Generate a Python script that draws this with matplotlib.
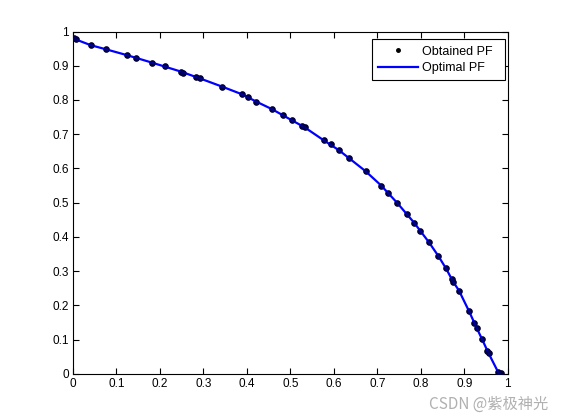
import matplotlib
matplotlib.use("Agg")
import matplotlib.pyplot as plt
import numpy as np

# Obtained PF points
obt_x = [0.002, 0.007, 0.041, 0.076, 0.124, 0.145, 0.182, 0.212, 0.248, 0.253,
         0.282, 0.292, 0.343, 0.388, 0.403, 0.422, 0.458, 0.483, 0.503, 0.527,
         0.533, 0.577, 0.594, 0.612, 0.635, 0.673, 0.709, 0.725, 0.746, 0.768,
         0.785, 0.798, 0.819, 0.840, 0.858, 0.871, 0.875, 0.888, 0.911, 0.923,
         0.929, 0.941, 0.953, 0.956, 0.977, 0.984]
obt_y = [0.982, 0.978, 0.960, 0.948, 0.931, 0.924, 0.909, 0.898, 0.883, 0.880,
         0.868, 0.863, 0.839, 0.817, 0.808, 0.795, 0.773, 0.756, 0.741, 0.724,
         0.720, 0.682, 0.670, 0.653, 0.630, 0.592, 0.550, 0.527, 0.499, 0.466,
         0.441, 0.418, 0.384, 0.345, 0.308, 0.278, 0.268, 0.243, 0.183, 0.149,
         0.133, 0.101, 0.067, 0.060, 0.005, 0.001]

# Optimal PF line
opt_x = [0.000, 0.041, 0.076, 0.124, 0.182, 0.248, 0.292, 0.343, 0.388, 0.422,
         0.458, 0.503, 0.533, 0.577, 0.612, 0.635, 0.673, 0.709, 0.746, 0.785,
         0.819, 0.840, 0.858, 0.875, 0.888, 0.911, 0.929, 0.941, 0.956, 0.980]
opt_y = [0.980, 0.960, 0.948, 0.931, 0.909, 0.883, 0.863, 0.839, 0.817, 0.795,
         0.773, 0.741, 0.720, 0.682, 0.653, 0.630, 0.592, 0.550, 0.499, 0.441,
         0.384, 0.345, 0.308, 0.268, 0.243, 0.183, 0.133, 0.101, 0.060, 0.000]

x_ticks = [0, 0.1, 0.2, 0.3, 0.4, 0.5, 0.6, 0.7, 0.8, 0.9, 1]
tick_labels = ["0", "0.1", "0.2", "0.3", "0.4", "0.5", "0.6", "0.7", "0.8", "0.9", "1"]

plt.rcParams['font.family'] = ['Liberation Sans', 'DejaVu Sans']

fig = plt.figure(figsize=(5.61, 4.2), dpi=100)
ax = fig.add_axes([0.13, 0.11, 0.775, 0.815])

ax.plot(obt_x, obt_y, linestyle='none', marker='o', markersize=3.6,
        color='black', label='Obtained PF', zorder=2)
ax.plot(opt_x, opt_y, color=(0, 0, 1), linewidth=1.6, label='Optimal PF', zorder=3)
ax.plot(obt_x, obt_y, linestyle='none', marker='o', markersize=3.6,
        color=(0, 0, 0.35), alpha=0.6, zorder=4)

ax.set_xlim(0, 1)
ax.set_ylim(0, 1)
ax.set_xticks(x_ticks)
ax.set_xticklabels(tick_labels)
ax.set_yticks(x_ticks)
ax.set_yticklabels(tick_labels)
ax.tick_params(direction='in', length=4, width=0.8, top=True, right=True,
               labelsize=8.5, pad=3)
for s in ax.spines.values():
    s.set_linewidth(0.8)

leg = ax.legend(loc='upper left', bbox_to_anchor=(0.687, 0.853, 0.307, 0.124),
                mode='expand', borderaxespad=0, fontsize=9, fancybox=False,
                framealpha=1, edgecolor='black', handlelength=3.2,
                handletextpad=0.35, borderpad=0.5, labelspacing=0.36,
                markerscale=0.7)
leg.get_frame().set_linewidth(0.8)

fig.text(0.977, 0.018, "CSDN @紫极神光", ha='right', va='bottom', fontsize=11,
         color='#b0b0b0', family=['Noto Sans CJK SC', 'DejaVu Sans'])

fig.savefig("out.png", dpi=100)
